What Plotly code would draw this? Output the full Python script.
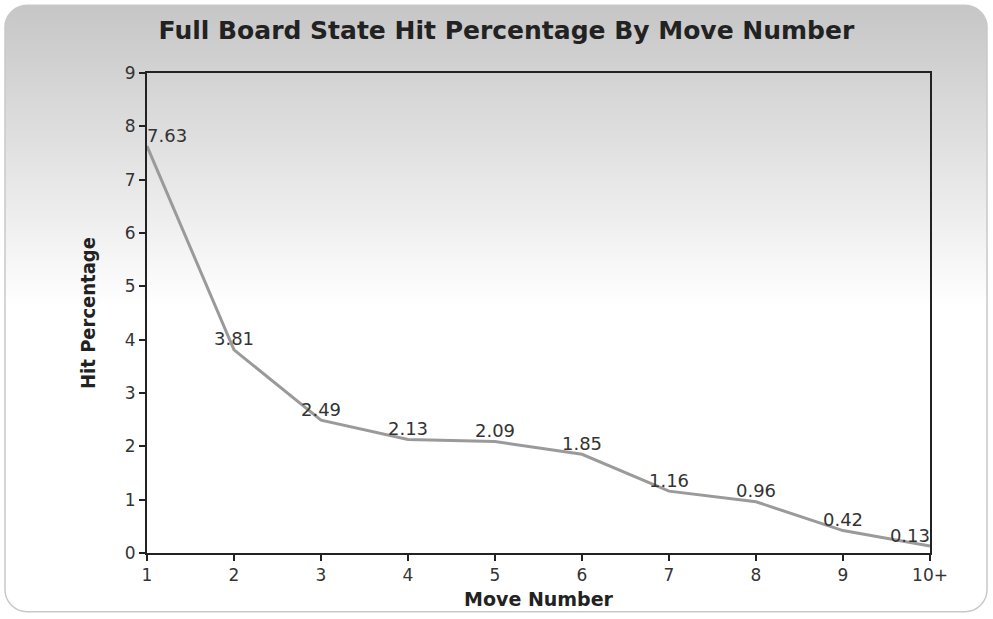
import base64
import plotly.graph_objects as go

# chart data
move_numbers = ["1", "2", "3", "4", "5", "6", "7", "8", "9", "10+"]
hit_pct = [7.63, 3.81, 2.49, 2.13, 2.09, 1.85, 1.16, 0.96, 0.42, 0.13]
y_ticks = [0, 1, 2, 3, 4, 5, 6, 7, 8, 9]

W, H = 993, 619
M = dict(l=147, r=63, t=73, b=64)
pw = W - M['l'] - M['r']
ph = H - M['t'] - M['b']

TEXT = '#333333'
AXIS = '#222222'

# rounded gradient card behind everything
svg = (
    f'<svg xmlns="http://www.w3.org/2000/svg" width="{W}" height="{H}" viewBox="0 0 {W} {H}" '
    'preserveAspectRatio="none">'
    '<defs><linearGradient id="g" x1="0" y1="0" x2="0" y2="1">'
    '<stop offset="0" stop-color="#c6c6c6"/>'
    '<stop offset="0.5" stop-color="#ffffff"/>'
    '<stop offset="1" stop-color="#ffffff"/>'
    '</linearGradient></defs>'
    '<rect x="5" y="5" width="982" height="609" rx="22" ry="22" '
    'fill="url(#g)" stroke="#c8c8c8" stroke-width="1.5"/></svg>'
)
bg_src = 'data:image/svg+xml;base64,' + base64.b64encode(svg.encode()).decode()

positions = ['top center'] * len(hit_pct)
positions[0] = 'top right'
positions[-1] = 'top left'

fig = go.Figure(go.Scatter(
    x=move_numbers, y=hit_pct,
    mode='lines+text',
    line=dict(color='#9a9a9a', width=3),
    text=[f'{v:.2f}' for v in hit_pct],
    textposition=positions,
    textfont=dict(family='DejaVu Sans', size=18, color=TEXT),
    cliponaxis=False,
    hoverinfo='x+y',
))

fig.update_layout(
    width=W, height=H,
    margin=M,
    paper_bgcolor='white',
    plot_bgcolor='rgba(0,0,0,0)',
    showlegend=False,
    title=dict(
        text='Full Board State Hit Percentage By Move Number',
        x=0.51, xanchor='center', xref='container',
        y=1 - 30 / H, yanchor='middle', yref='container',
        font=dict(family='DejaVu Sans', size=25, color='#222222', weight='bold'),
    ),
    images=[dict(
        source=bg_src, xref='paper', yref='paper',
        x=-M['l'] / pw, y=1 + M['t'] / ph,
        sizex=W / pw, sizey=H / ph,
        xanchor='left', yanchor='top',
        sizing='stretch', layer='below',
    )],
)

fig.update_xaxes(
    type='category', range=[0, len(move_numbers) - 1],
    showline=True, linecolor=AXIS, linewidth=2, mirror=True,
    ticks='outside', ticklen=6, tickcolor=AXIS, tickwidth=2,
    showgrid=False, zeroline=False,
    tickfont=dict(family='DejaVu Sans', size=17, color=TEXT),
    title=dict(text='Move Number', standoff=8,
               font=dict(family='DejaVu Sans', size=19, color='#222222', weight='bold')),
)
fig.update_yaxes(
    range=[0, 9], tickvals=y_ticks,
    showline=True, linecolor=AXIS, linewidth=2, mirror=True,
    ticks='outside', ticklen=6, tickcolor=AXIS, tickwidth=2,
    showgrid=False, zeroline=False,
    tickfont=dict(family='DejaVu Sans', size=17, color=TEXT),
    title=dict(text='Hit Percentage', standoff=24,
               font=dict(family='DejaVu Sans Condensed, DejaVu Sans', size=20,
                         color='#222222', weight='bold')),
)

# pin the figure to the window origin: no page margin, no scrollbars
page_fix = (
    "document.documentElement.style.margin='0';"
    "document.documentElement.style.overflow='hidden';"
    "document.body.style.margin='0';"
    "document.body.style.overflow='hidden';"
)
fig.write_html("out.html", config={'displayModeBar': False}, post_script=page_fix)
